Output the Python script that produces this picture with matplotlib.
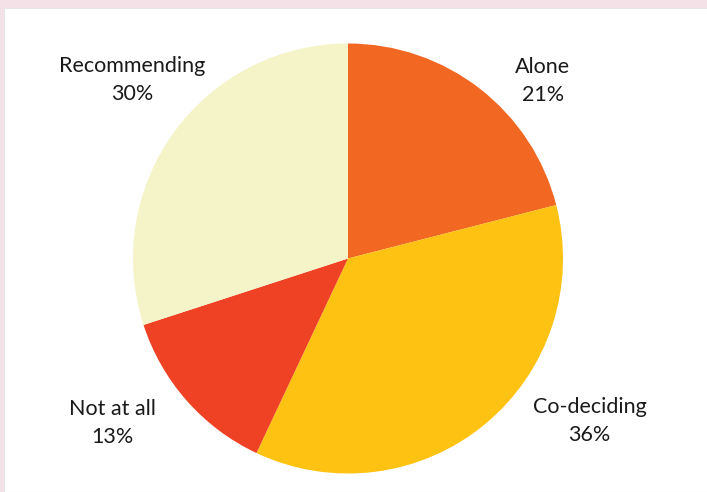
import matplotlib
matplotlib.use("Agg")
import matplotlib.pyplot as plt
from matplotlib.patches import Rectangle

categories = ["Alone", "Co-deciding", "Not at all", "Recommending"]
values = [21, 36, 13, 30]
colors = ["#F26722", "#FEC312", "#EF4225", "#F5F4C8"]
# label anchor positions (axes data units, pie radius = 1)
label_x = [0.905, 1.123, -1.095, -1.005]
label_y = [0.825, -0.755, -0.765, 0.830]

W, H = 707, 492
fig = plt.figure(figsize=(W / 100, H / 100), dpi=100)
fig.patch.set_facecolor("#F4E1E8")
fig.add_artist(Rectangle((4 / W, 0), 1, (H - 8) / H, transform=fig.transFigure,
                         facecolor="white", edgecolor="#E6E6E6", lw=0.8, zorder=0))

cx, cy, r = 348, 492 - 258.5, 215
ax = fig.add_axes([(cx - r) / W, (cy - r) / H, 2 * r / W, 2 * r / H])
ax.pie(values, colors=colors, startangle=90, counterclock=False,
       wedgeprops=dict(linewidth=0), radius=1)
ax.set_xlim(-1, 1)
ax.set_ylim(-1, 1)
ax.set_aspect("equal")
ax.axis("off")

for name, v, x, y in zip(categories, values, label_x, label_y):
    ax.text(x, y, f"{name}\n{v}%", ha="center", va="center", fontsize=15.5,
            family="Lato", color="#1a1a1a", linespacing=1.5, clip_on=False)

fig.savefig("out.png", dpi=100, facecolor=fig.get_facecolor())
